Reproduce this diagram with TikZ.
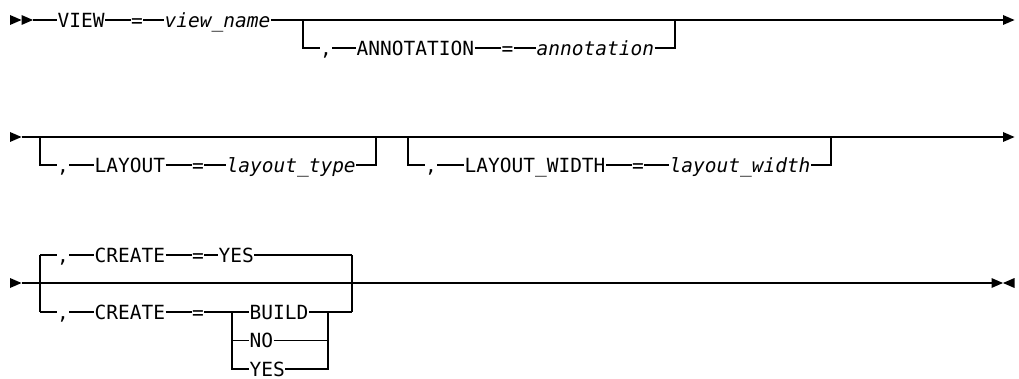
\documentclass[tikz,border=0pt]{standalone}
\usepackage{fontspec}
\setmonofont{DejaVu Sans Mono}[ItalicFont={DejaVu Sans Mono Oblique}]
\newcommand\railtip[2]{\fill (#1,#2-5) -- (#1+11.5,#2) -- (#1,#2+5) -- cycle;}
\newcommand\railtipl[2]{\fill (#1,#2) -- (#1+11.5,#2-5) -- (#1+11.5,#2+5) -- cycle;}
\begin{document}
\begin{tikzpicture}[x=1pt, y=-1pt, line width=1.2pt,
	kw/.style={font=\ttfamily\fontsize{19.5}{20}\selectfont, inner sep=0pt, text height=14.2pt, text depth=0pt},
	var/.style={kw, font=\ttfamily\itshape\fontsize{19.5}{20}\selectfont}]
	\useasboundingbox (0,0) rectangle (1019,379);
	% first line
	\railtip{10}{20} \railtip{21.5}{20}
	\coordinate (sta) at (33,20);
	\coordinate (enda) at (1003,20);
	\node[kw, anchor=west] (view) at (57,20) {VIEW};
	\node[kw] (eqa) at (137,20) {=};
	\node[var, anchor=west] (vname) at (164,20) {view\_name};
	\draw (sta) -- (view) -- (eqa) -- (vname) -- (enda);
	\railtip{1003}{20}
	\coordinate (ba) at (303,20);
	\coordinate (bb) at (675,20);
	\node[kw] (ca) at (326,48) {,};
	\node[kw, anchor=west] (annkw) at (356,48) {ANNOTATION};
	\node[kw] (eqb) at (507.5,48) {=};
	\node[var, anchor=west] (annvar) at (536,48) {annotation};
	\draw (ba) |- (ca);
	\draw (ca) -- (annkw) -- (eqb) -- (annvar) -| (bb);
	% second line
	\railtip{10}{137}
	\coordinate (stb) at (21.5,137);
	\coordinate (endb) at (1003,137);
	\draw (stb) -- (endb);
	\railtip{1003}{137}
	\coordinate (bc) at (40,137);
	\coordinate (bd) at (376,137);
	\node[kw] (cb) at (63,165) {,};
	\node[kw, anchor=west] (laykw) at (94,165) {LAYOUT};
	\node[kw] (eqc) at (198,165) {=};
	\node[var, anchor=west] (layvar) at (226,165) {layout\_type};
	\draw (bc) |- (cb);
	\draw (cb) -- (laykw) -- (eqc) -- (layvar) -| (bd);
	\coordinate (be) at (408,137);
	\coordinate (bf) at (831,137);
	\node[kw] (cc) at (431,165) {,};
	\node[kw, anchor=west] (lwkw) at (464,165) {LAYOUT\_WIDTH};
	\node[kw] (eqd) at (638,165) {=};
	\node[var, anchor=west] (lwvar) at (669,165) {layout\_width};
	\draw (be) |- (cc);
	\draw (cc) -- (lwkw) -- (eqd) -- (lwvar) -| (bf);
	% third line
	\railtip{10}{283}
	\coordinate (stc) at (21.5,283);
	\coordinate (endc) at (991.5,283);
	\draw (stc) -- (endc);
	\railtip{991.5}{283} \railtipl{1003}{283}
	\coordinate (bg) at (40,255);
	\coordinate (bh) at (40,312);
	\coordinate (bi) at (352,255);
	\coordinate (bj) at (352,312);
	\draw (bg) -- (bh);
	\draw (bi) -- (bj);
	\node[kw] (cd) at (63,255) {,};
	\node[kw, anchor=west] (crkwa) at (94,255) {CREATE};
	\node[kw] (eqe) at (198,255) {=};
	\node[kw, anchor=west] (yesa) at (218,255) {YES};
	\draw (bg) -- (cd) -- (crkwa) -- (eqe) -- (yesa) -- (bi);
	\node[kw] (ce) at (63,312) {,};
	\node[kw, anchor=west] (crkwb) at (94,312) {CREATE};
	\node[kw] (eqf) at (198,312) {=};
	\coordinate (ia) at (232,312);
	\coordinate (ib) at (328,312);
	\node[kw, anchor=west] (build) at (249,312) {BUILD};
	\node[kw, anchor=west] (no) at (249,340.5) {NO};
	\node[kw, anchor=west] (yesb) at (249,369) {YES};
	\draw (bh) -- (ce) -- (crkwb) -- (eqf) -- (ia) -- (build) -- (ib) -- (bj);
	\draw (ia) |- (no);
	\draw (ia) |- (yesb);
	\draw (no) -| (ib);
	\draw (yesb) -| (ib);
\end{tikzpicture}
\end{document}
